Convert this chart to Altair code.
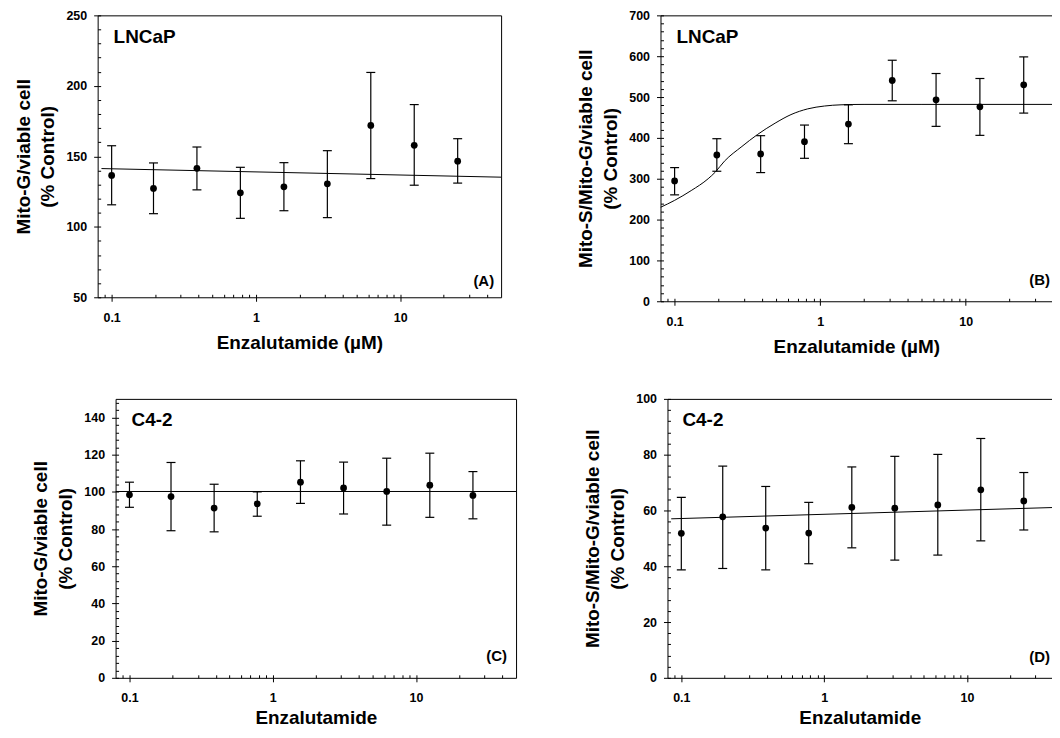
import altair as alt
import pandas as pd

# ---------------- data ----------------
conc = [0.1, 0.195, 0.39, 0.78, 1.5625, 3.125, 6.25, 12.5, 25]

a_mean = [136.4, 127.2, 141.5, 124.1, 128.4, 130.5, 171.9, 157.8, 146.5]
a_hi = [157.5, 145.3, 156.6, 142.2, 145.5, 154.0, 209.5, 186.7, 162.5]
a_lo = [115.6, 109.3, 126.2, 106.0, 111.4, 106.5, 134.2, 129.5, 131.0]
a_fit_x = [0.085, 50]
a_fit_y = [141.3, 135.2]

b_mean = [294.7, 358.1, 360.6, 390.7, 433.8, 540.5, 493.3, 476.2, 529.9]
b_hi = [327.2, 398.0, 405.4, 431.4, 481.0, 590.1, 557.6, 545.4, 598.3]
b_lo = [260.5, 318.3, 315.0, 350.0, 385.8, 490.8, 428.2, 406.2, 460.7]
b_fit_x = [0.08, 0.1, 0.13, 0.17, 0.19, 0.22, 0.29, 0.37, 0.49, 0.63, 0.82, 1.07, 1.39, 2.0, 5.0, 50]
b_fit_y = [230, 247, 271, 300, 316, 343, 379, 408, 436, 457, 471, 478, 481, 482, 482, 482]

c_mean = [98.4, 97.5, 91.3, 93.6, 105.2, 102.1, 100.2, 103.6, 98.1]
c_hi = [105.2, 115.8, 104.1, 100.0, 116.7, 116.0, 118.1, 120.8, 110.9]
c_lo = [91.7, 79.1, 78.5, 86.9, 93.8, 88.1, 82.1, 86.3, 85.5]
c_fit_x = [0.08, 50]
c_fit_y = [100.2, 100.2]

d_mean = [51.8, 57.7, 53.7, 51.9, 61.1, 60.8, 62.0, 67.4, 63.4]
d_hi = [64.7, 75.9, 68.6, 62.9, 75.6, 79.4, 80.1, 85.8, 73.6]
d_lo = [38.7, 39.2, 38.7, 40.9, 46.6, 42.2, 44.0, 49.1, 53.0]
d_fit_x = [0.085, 50]
d_fit_y = [57.0, 61.2]

x_major = [0.1, 1, 10]
x_minor = [0.09, 0.2, 0.3, 0.4, 0.5, 0.6, 0.7, 0.8, 0.9,
           2, 3, 4, 5, 6, 7, 8, 9, 20, 30, 40]

FONT = "Liberation Sans"


def panel(mean, hi, lo, fit_x, fit_y, x_max, y_dom, y_major, y_minor, width, height,
          ytitle, xtitle, cell, tag, cell_pos, tag_pos, right_border,
          x_lab_pad=10, x_title_pad=10):
    df = pd.DataFrame({"x": conc, "m": mean, "hi": hi, "lo": lo})
    fit = pd.DataFrame({"fx": fit_x, "fy": fit_y})
    xs = alt.Scale(type="log", domain=[0.08, x_max], nice=False)
    ys = alt.Scale(domain=y_dom, nice=False, zero=False)

    ax_major_x = alt.Axis(orient="bottom", values=x_major, format="~g", tickSize=4,
                          labelPadding=x_lab_pad, titlePadding=x_title_pad, title=xtitle,
                          labelFlush=False, labelOverlap=False, domain=True)
    ax_major_y = alt.Axis(orient="left", values=y_major, format="d", tickSize=4,
                          labelPadding=7, titlePadding=8, title=ytitle,
                          titleLineHeight=25, labelOverlap=False, domain=True)
    ax_in_x = alt.Axis(orient="bottom", values=x_major + x_minor, tickSize=3,
                       offset=-3, labels=False, domain=False, title=None)
    ax_in_y = alt.Axis(orient="left", values=y_major + y_minor, tickSize=3,
                       offset=-3, labels=False, domain=False, title=None)
    ax_top = alt.Axis(orient="top", ticks=False, labels=False, domain=True, title=None)
    ax_right = (alt.Axis(orient="right", ticks=False, labels=False, domain=True,
                         title=None) if right_border else None)

    bars = alt.Chart(df).mark_rule(color="black", strokeWidth=1.2).encode(
        x=alt.X("x:Q", scale=xs, axis=ax_major_x),
        y=alt.Y("lo:Q", scale=ys, axis=ax_major_y),
        y2="hi:Q",
    )
    pts = alt.Chart(df).mark_circle(size=46, color="black", opacity=1).encode(
        x=alt.X("x:Q", scale=xs, axis=ax_in_x),
        y=alt.Y("m:Q", scale=ys, axis=ax_in_y),
    )
    cap_hi = alt.Chart(df).mark_tick(orient="horizontal", size=9, thickness=1.2,
                                     color="black", opacity=1).encode(
        x=alt.X("x:Q", scale=xs, axis=None),
        y=alt.Y("hi:Q", scale=ys, axis=None),
    )
    cap_lo = alt.Chart(df).mark_tick(orient="horizontal", size=9, thickness=1.2,
                                     color="black", opacity=1).encode(
        x=alt.X("x:Q", scale=xs, axis=None),
        y=alt.Y("lo:Q", scale=ys, axis=None),
    )
    line = alt.Chart(fit).mark_line(color="black", strokeWidth=1, clip=True,
                                    interpolate="monotone").encode(
        x=alt.X("fx:Q", scale=xs, axis=ax_top),
        y=alt.Y("fy:Q", scale=ys, axis=ax_right),
    )
    t1 = alt.Chart(pd.DataFrame({"t": [cell]})).mark_text(
        align="left", baseline="alphabetic", font=FONT, fontSize=19,
        fontWeight="bold", color="black").encode(
        text="t:N", x=alt.value(cell_pos[0]), y=alt.value(cell_pos[1]))
    t2 = alt.Chart(pd.DataFrame({"t": [tag]})).mark_text(
        align="right", baseline="alphabetic", font=FONT, fontSize=15,
        fontWeight="bold", color="black").encode(
        text="t:N", x=alt.value(width - tag_pos[0]), y=alt.value(height - tag_pos[1]))

    return alt.layer(bars, pts, cap_hi, cap_lo, line, t1, t2).resolve_axis(
        x="independent", y="independent"
    ).properties(width=width, height=height)


def spacer(w):
    return alt.Chart(pd.DataFrame({"a": [0]})).mark_point(opacity=0, size=1).encode(
        x=alt.value(0), y=alt.value(0)).properties(width=w, height=5)


A = panel(a_mean, a_hi, a_lo, a_fit_x, a_fit_y, 50, [50, 250], [50, 100, 150, 200, 250],
          [v for v in range(60, 250, 10) if v % 50], 405, 283,
          ["Mito-G/viable cell", "(% Control)"], "Enzalutamide (\u00b5M)",
          "LNCaP", "(A)", (16, 28), (7, 11), True)
B = panel(b_mean, b_hi, b_lo, b_fit_x, b_fit_y, 39.1, [0, 700], list(range(0, 701, 100)),
          [v for v in range(20, 700, 20) if v % 100], 393, 287,
          ["Mito-S/Mito-G/viable cell", "(% Control)"], "Enzalutamide (\u00b5M)",
          "LNCaP", "(B)", (16, 28), (2, 16), False)
C = panel(c_mean, c_hi, c_lo, c_fit_x, c_fit_y, 50, [0, 150], list(range(0, 141, 20)),
          [v for v in range(4, 150, 4) if v % 20], 402, 280,
          ["Mito-G/viable cell", "(% Control)"], "Enzalutamide",
          "C4-2", "(C)", (16, 27), (9, 17), True, x_lab_pad=10, x_title_pad=4)
D = panel(d_mean, d_hi, d_lo, d_fit_x, d_fit_y, 39.4, [0, 100], list(range(0, 101, 20)),
          [v for v in range(4, 100, 4) if v % 20], 386, 280,
          ["Mito-S/Mito-G/viable cell", "(% Control)"], "Enzalutamide",
          "C4-2", "(D)", (15, 27), (2, 16), False, x_lab_pad=10, x_title_pad=4)

row1 = alt.hconcat(alt.hconcat(spacer(1), A, spacing=0), B, spacing=76)
row2 = alt.hconcat(alt.hconcat(spacer(19), C, spacing=0), D, spacing=68)

chart = alt.vconcat(row1, row2, spacing=36).properties(
    padding={"left": 4, "top": 0, "right": 0, "bottom": 0}
).configure_view(stroke=None).configure_axis(
    labelFont=FONT, labelFontWeight="bold", labelFontSize=12.5, labelColor="black",
    titleFont=FONT, titleFontWeight="bold", titleFontSize=19, titleColor="black",
    tickColor="black", domainColor="black", grid=False, tickWidth=1, domainWidth=1,
)

chart.save("out.html", embed_options={"renderer": "svg", "actions": False})
